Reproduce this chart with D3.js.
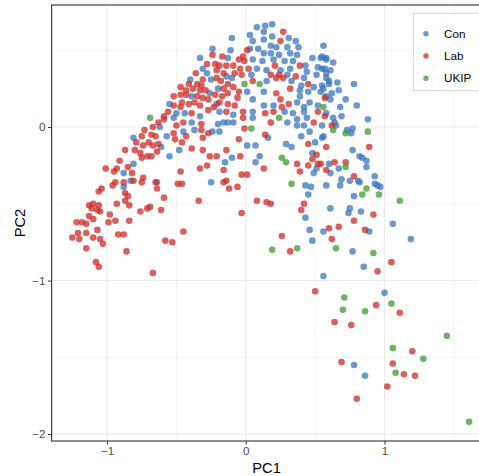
<!DOCTYPE html>
<html lang="en">
<head>
    <meta charset="UTF-8">
    <title>PC1 vs PC2 by party</title>
    <script src="https://d3js.org/d3.v7.min.js"></script>
    <style>
        html, body {
            margin: 0;
            padding: 0;
            background: #ffffff;
        }
        svg {
            display: block;
            font-family: "Liberation Sans", Arial, sans-serif;
        }
        .tick text {
            fill: #4d4d4d;
            font-size: 11.7px;
        }
        .tick line {
            stroke: #333333;
        }
    </style>
</head>
<body>
    <svg id="chart" width="479" height="476"></svg>

    <script>
        // party names, in legend order
        var parties = ["Con", "Lab", "UKIP"];
        var partyColors = ["#3a76bc", "#cc2b25", "#3d9c2f"];

        // [PC1, PC2] for each constituency
        var conPoints = [
            [-0.33,0.45],[-0.13,0.45],[-0.31,0.38],[-0.28,0.35],[-0.25,0.31],[-0.14,0.33],[-0.40,0.31],[-0.20,0.25],
            [-0.26,0.22],[-0.39,0.20],[-0.21,0.15],[-0.55,0.15],[-0.19,0.10],[-0.50,0.09],[-0.44,0.09],[-0.33,0.07],
            [-0.52,0.06],[-0.39,0.03],[-0.20,0.02],[-0.16,0.03],[-0.13,0.03],[-0.62,0.00],[-0.81,-0.07],[-0.57,-0.06],
            [-0.45,-0.03],[-0.37,-0.02],[-0.24,-0.03],[-0.19,-0.03],[-0.61,-0.13],[-0.48,-0.15],[-0.55,-0.19],
            [-0.10,0.58],[0.03,0.60],[0.08,0.65],[0.14,0.66],[0.19,0.67],[0.13,0.62],[0.05,0.56],[0.13,0.57],
            [0.19,0.59],[0.31,0.58],[0.36,0.56],[0.18,0.53],[0.22,0.52],[0.30,0.52],[0.38,0.52],[0.03,0.51],
            [0.09,0.51],[-0.11,0.50],[0.13,0.48],[0.18,0.48],[0.24,0.47],[0.32,0.48],[0.37,0.47],[0.48,0.45],
            [0.54,0.45],[0.58,0.45],[0.05,0.44],[0.12,0.43],[0.20,0.44],[0.28,0.43],[0.34,0.43],[0.43,0.40],
            [0.52,0.39],[0.57,0.38],[0.08,0.38],[0.15,0.37],[0.25,0.37],[0.32,0.38],[0.44,0.36],[0.51,0.34],
            [0.58,0.35],[0.04,0.34],[0.30,0.34],[0.42,0.32],[-0.10,0.32],[0.15,0.30],[0.33,0.30],[0.40,0.27],
            [0.49,0.26],[0.55,0.27],[0.60,0.28],[0.01,0.23],[0.13,0.23],[0.39,0.24],[0.45,0.23],[0.54,0.23],
            [0.58,0.20],[0.05,0.18],[0.37,0.16],[0.46,0.16],[0.39,0.20],[0.13,0.14],[0.20,0.14],[0.42,0.13],
            [0.52,0.14],[0.05,0.10],[0.28,0.10],[0.34,0.09],[0.42,0.10],[0.58,0.09],[-0.09,0.08],[0.05,0.06],
            [0.30,0.03],[0.37,0.05],[0.44,0.06],[-0.09,0.03],
            [-0.24,0.51],[0.07,-0.12],[0.16,-0.07],[0.29,-0.11],[0.33,-0.13],[0.01,-0.12],[0.40,-0.06],[0.50,-0.10],
            [0.56,-0.06],[0.37,0.01],[0.42,0.01],[0.46,-0.03],
            [0.56,0.53],[0.55,0.46],[0.58,0.44],[0.63,0.42],[0.55,0.38],[0.61,0.37],[0.58,0.32],[0.60,0.30],
            [0.66,0.29],[0.78,0.28],[0.56,0.25],[0.67,0.24],[0.62,0.22],[0.61,0.18],[0.72,0.18],[0.80,0.14],
            [0.68,0.13],[0.63,0.06],[0.64,0.03],[0.69,0.07],[0.88,0.05],[0.55,0.01],[0.65,0.01],[0.73,-0.02],
            [0.77,-0.01],[0.76,-0.04],[0.55,-0.07],[0.77,-0.15],
            [0.82,-0.19],[0.84,-0.20],[0.87,-0.22],[0.60,-0.24],[0.67,-0.27],[0.87,-0.26],[0.61,-0.30],[0.93,-0.32],
            [0.69,-0.34],[0.75,-0.35],[0.81,-0.35],[0.82,-0.36],[0.58,-0.38],[0.68,-0.38],[0.93,-0.37],[0.95,-0.38],
            [0.97,-0.39],[0.78,-0.45],[0.61,-0.53],[0.75,-0.53],[0.74,-0.56],[0.83,-0.55],[1.06,-0.63],[0.56,-0.68],
            [0.89,-0.68],[1.19,-0.73],[0.77,-0.81],[0.85,-0.91],[0.56,-0.97],
            [1.00,-1.08],[0.78,-1.55],[0.86,-1.62],
            [-0.10,-0.20],[0.10,-0.19],[0.07,-0.23],[0.48,-0.17],[0.51,-0.27],[0.49,-0.30],[-0.15,-0.23],[-0.25,-0.36],
            [0.43,-0.38],[0.47,-0.39],[0.45,-0.44],[0.43,-0.59],[0.46,-0.67],[0.48,-0.74],
            [-0.81,-0.24],[-0.88,-0.30],[-0.83,-0.35],[-0.88,-0.39],[-0.64,-0.36]
        ];

        var labPoints = [
            [-0.24,0.47],[-0.17,0.46],[-0.28,0.41],[-0.22,0.41],[-0.19,0.40],[-0.14,0.40],[-0.21,0.37],[-0.16,0.35],
            [-0.36,0.35],[-0.31,0.31],[-0.21,0.32],[-0.18,0.30],[-0.13,0.28],[-0.41,0.28],[-0.35,0.28],[-0.32,0.27],
            [-0.16,0.25],[-0.13,0.22],[-0.47,0.26],[-0.43,0.24],[-0.38,0.25],[-0.33,0.24],[-0.29,0.24],[-0.22,0.21],
            [-0.17,0.20],[-0.47,0.21],[-0.43,0.21],[-0.35,0.20],[-0.31,0.19],[-0.27,0.18],[-0.19,0.16],[-0.13,0.15],
            [-0.52,0.20],[-0.52,0.14],[-0.46,0.16],[-0.41,0.15],[-0.37,0.16],[-0.33,0.14],[-0.27,0.11],[-0.23,0.13],
            [-0.14,0.10],[-0.56,0.10],[-0.47,0.13],[-0.39,0.09],[-0.59,0.07],[-0.45,0.03],[-0.32,0.02],[-0.63,0.03],
            [-0.59,0.05],[-0.67,0.00],[-0.50,0.01],[-0.73,-0.02],[-0.75,-0.06],[-0.68,-0.05],[-0.65,-0.06],[-0.52,-0.04],
            [-0.43,-0.06],[-0.32,-0.02],[-0.31,-0.07],[-0.27,-0.04],[-0.79,-0.10],[-0.74,-0.12],[-0.70,-0.10],[-0.67,-0.12],
            [-0.63,-0.11],[-0.51,-0.08],[-0.46,-0.10],[-0.39,-0.14],[-0.31,-0.15],[-0.87,-0.15],[-0.80,-0.15],[-0.76,-0.17],
            [-0.71,-0.19],[-0.68,-0.19],[-0.64,-0.16],[-0.26,-0.19],[-0.21,-0.19],[-0.14,-0.15],
            [0.25,0.56],[0.27,0.62],[0.01,0.50],[-0.02,0.46],[-0.05,0.44],[-0.01,0.43],[0.21,0.40],[0.39,0.40],
            [-0.09,0.40],[-0.04,0.38],[0.02,0.38],[-0.08,0.35],[-0.03,0.34],[0.18,0.34],[0.24,0.34],[0.36,0.33],
            [0.05,0.30],[0.22,0.32],[0.27,0.32],[0.45,0.28],[-0.09,0.26],[-0.05,0.23],[0.22,0.22],[0.32,0.25],
            [-0.06,0.19],[0.25,0.18],[0.31,0.15],[-0.08,0.14],[0.26,0.13],[-0.02,0.10],[0.14,0.09],[0.20,0.10],
            [0.52,0.10],[-0.02,0.06],[0.18,0.03],[0.49,0.03],
            [-0.01,-0.01],[0.14,-0.05],[-0.05,-0.08],[0.45,-0.11],[0.58,-0.13],
            [0.57,0.19],[0.57,0.07],[0.62,0.01],[0.89,-0.13],
            [0.64,-0.23],[0.72,-0.23],[0.58,-0.28],[0.54,-0.24],[0.78,-0.32],[0.92,-0.57],[0.78,-0.61],[0.60,-0.66],
            [0.67,-0.65],[0.86,-0.67],[0.62,-0.73],[1.05,-0.88],[0.95,-0.94],
            [0.94,-1.16],[1.11,-1.21],[0.64,-1.27],[0.76,-1.29],[1.20,-1.46],[0.69,-1.53],[1.06,-1.54],[1.14,-1.61],
            [1.22,-1.62],[1.02,-1.69],[0.80,-1.77],[0.50,-1.07],
            [-0.04,-0.19],[0.37,-0.24],[0.45,-0.25],[0.48,-0.21],[0.52,-0.24],[0.39,-0.29],[0.51,-0.18],[-0.33,-0.27],
            [-0.28,-0.25],[-0.16,-0.28],[0.13,-0.27],[-0.03,-0.31],[0.01,-0.31],[-0.16,-0.36],[-0.14,-0.35],[-0.12,-0.40],
            [-0.06,-0.39],[-0.34,-0.48],[0.08,-0.48],[0.15,-0.49],[0.18,-0.50],[0.42,-0.50],[0.40,-0.54],[-0.03,-0.56],
            [0.26,-0.71],[0.32,-0.81],[-0.46,-0.37],
            [-0.75,-0.20],[-0.91,-0.22],[-0.85,-0.26],[-0.93,-0.27],[-1.01,-0.27],[-0.95,-0.29],[-0.82,-0.30],[-0.74,-0.33],
            [-0.75,-0.36],[-0.81,-0.35],[-0.88,-0.36],[-0.94,-0.36],[-0.96,-0.38],[-0.65,-0.36],[-0.64,-0.40],[-0.47,-0.29],
            [-0.49,-0.37],[-1.04,-0.40],[-1.06,-0.42],[-0.87,-0.43],[-0.85,-0.45],[-0.87,-0.48],[-0.84,-0.51],[-0.59,-0.46],
            [-1.10,-0.50],[-1.13,-0.51],[-1.11,-0.53],[-1.06,-0.51],[-1.07,-0.54],[-1.05,-0.55],[-0.93,-0.50],[-0.76,-0.55],
            [-0.71,-0.53],[-0.69,-0.52],[-0.61,-0.54],[-0.98,-0.57],[-1.13,-0.58],[-1.10,-0.60],[-0.99,-0.62],[-0.94,-0.61],
            [-0.84,-0.61],[-1.22,-0.62],[-1.18,-0.62],[-1.15,-0.63],[-1.21,-0.69],[-1.15,-0.69],[-1.07,-0.67],[-1.25,-0.72],
            [-1.20,-0.73],[-1.10,-0.72],[-1.05,-0.73],[-1.03,-0.76],[-0.92,-0.70],[-0.88,-0.70],[-1.15,-0.79],[-0.86,-0.81],
            [-1.08,-0.88],[-1.06,-0.91],[-0.67,-0.95],[-0.58,-0.74],[-0.53,-0.75],[-0.45,-0.68]
        ];

        var ukipPoints = [
            [-0.69,0.06],[-0.01,0.28],[0.10,0.28],[0.56,0.13],[0.24,0.06],[0.04,-0.01],[0.63,-0.02],[0.72,-0.04],
            [0.88,-0.03],[0.72,-0.26],[0.87,-0.40],[0.84,-0.44],[0.96,-0.44],[1.11,-0.48],[0.65,-0.79],[0.92,-0.82],
            [0.26,-0.20],[0.29,-0.23],[0.33,-0.37],[0.19,-0.80],[0.37,-0.79],[0.71,-1.11],[0.70,-1.19],[0.86,-1.20],
            [1.05,-1.15],[1.45,-1.36],[1.06,-1.44],[1.28,-1.51],[1.08,-1.60],[1.61,-1.92]
        ];

        var xTicks = [-1, 0, 1],
            yTicks = [-2, -1, 0],
            xMinor = [-0.5, 0.5, 1.5],
            yMinor = [-1.5, -0.5, 0.5];

        var panel = {left: 51.6, right: 481.6, top: 5, bottom: 441};

        var x = d3.scaleLinear().domain([-1.4, 1.7]).range([panel.left, panel.right]);
        var y = d3.scaleLinear().domain([-2.045, 0.795]).range([panel.bottom, panel.top]);
        var color = d3.scaleOrdinal().domain(parties).range(partyColors);

        var svg = d3.select("#chart");

        svg.append("defs").append("clipPath").attr("id", "panel-clip")
            .append("rect")
            .attr("x", panel.left).attr("y", panel.top)
            .attr("width", panel.right - panel.left)
            .attr("height", panel.bottom - panel.top);

        // grid: minor lines are thinner
        var grid = svg.append("g");
        grid.selectAll(".vminor").data(xMinor).enter().append("line")
            .attr("x1", d => x(d)).attr("x2", d => x(d))
            .attr("y1", panel.top).attr("y2", panel.bottom)
            .attr("stroke", "#ebebeb").attr("stroke-width", 0.6);
        grid.selectAll(".hminor").data(yMinor).enter().append("line")
            .attr("y1", d => y(d)).attr("y2", d => y(d))
            .attr("x1", panel.left).attr("x2", panel.right)
            .attr("stroke", "#ebebeb").attr("stroke-width", 0.6);
        grid.selectAll(".vmajor").data(xTicks).enter().append("line")
            .attr("x1", d => x(d)).attr("x2", d => x(d))
            .attr("y1", panel.top).attr("y2", panel.bottom)
            .attr("stroke", "#ebebeb").attr("stroke-width", 1.1);
        grid.selectAll(".hmajor").data(yTicks).enter().append("line")
            .attr("y1", d => y(d)).attr("y2", d => y(d))
            .attr("x1", panel.left).attr("x2", panel.right)
            .attr("stroke", "#ebebeb").attr("stroke-width", 1.1);

        // points, one layer per party
        var pointLayer = svg.append("g").attr("clip-path", "url(#panel-clip)");
        [conPoints, labPoints, ukipPoints].forEach(function(pts, i) {
            pointLayer.append("g").selectAll("circle")
                .data(pts)
                .enter().append("circle")
                .attr("cx", d => x(d[0]))
                .attr("cy", d => y(d[1]))
                .attr("r", 3.3)
                .attr("fill", color(parties[i]))
                .attr("fill-opacity", 0.75);
        });

        // panel border
        svg.append("rect")
            .attr("x", panel.left).attr("y", panel.top)
            .attr("width", panel.right - panel.left)
            .attr("height", panel.bottom - panel.top)
            .attr("fill", "none")
            .attr("stroke", "#333333")
            .attr("stroke-width", 1.1);

        // axes
        svg.append("g")
            .attr("transform", "translate(0," + panel.bottom + ")")
            .call(d3.axisBottom(x).tickValues(xTicks).tickFormat(d3.format("d")).tickSize(3.6).tickPadding(2.4))
            .call(g => g.select(".domain").remove());

        svg.append("g")
            .attr("transform", "translate(" + panel.left + ",0)")
            .call(d3.axisLeft(y).tickValues(yTicks).tickFormat(d3.format("d")).tickSize(3.6).tickPadding(2.4))
            .call(g => g.select(".domain").remove());

        svg.append("text")
            .attr("x", (panel.left + panel.right) / 2)
            .attr("y", 473)
            .attr("text-anchor", "middle")
            .attr("font-size", "14.7px")
            .attr("fill", "#000")
            .text("PC1");

        svg.append("text")
            .attr("transform", "translate(25," + ((panel.top + panel.bottom) / 2) + ") rotate(-90)")
            .attr("text-anchor", "middle")
            .attr("font-size", "14.7px")
            .attr("fill", "#000")
            .text("PC2");

        // legend inside the panel, top right
        var legend = svg.append("g").attr("transform", "translate(413.3,13.3)");
        legend.append("rect")
            .attr("width", 80).attr("height", 77.4)
            .attr("fill", "#ffffff")
            .attr("stroke", "#cccccc")
            .attr("stroke-width", 0.8);

        var rows = legend.selectAll(".row").data(parties).enter().append("g")
            .attr("transform", (d, i) => "translate(0," + (20.4 + i * 22.3) + ")");
        rows.append("circle")
            .attr("cx", 12.7).attr("r", 2.7)
            .attr("fill", d => color(d))
            .attr("fill-opacity", 0.75);
        rows.append("text")
            .attr("x", 30.7)
            .attr("dy", "0.35em")
            .attr("font-size", "11.7px")
            .attr("fill", "#000")
            .text(d => d);
    </script>
</body>
</html>
